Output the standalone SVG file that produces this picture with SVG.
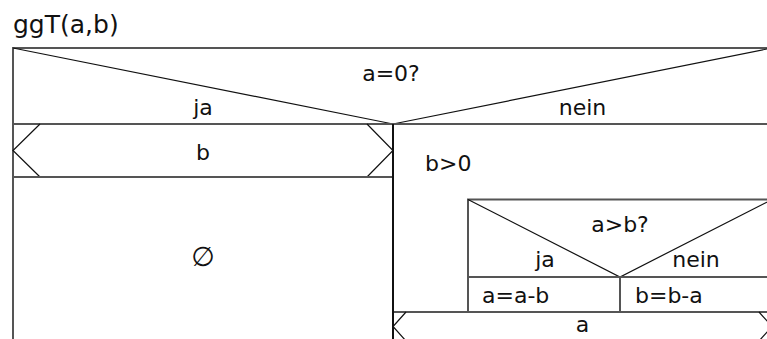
<svg xmlns="http://www.w3.org/2000/svg" width="767" height="339" viewBox="0 0 767 339">
<style>
.t{font-family:"DejaVu Sans","Liberation Sans",sans-serif;font-size:22px;fill:#111}
.c{text-anchor:middle}
.box{fill:none;stroke:#555;stroke-width:2}
.thin{fill:none;stroke:#111;stroke-width:1.2}
.bar{fill:none;stroke:#111;stroke-width:2}
</style>
<rect width="767" height="339" fill="#fff"/>
<g id="title">
<text class="t" x="13" y="33" style="font-size:25px">ggT(a,b)</text>
</g>
<g id="decision-a0">
<rect class="box" x="13" y="48" width="759" height="76"/>
<polyline class="thin" points="13,48 393,124 772,48"/>
<text class="t c" x="391" y="81">a=0?</text>
<text class="t c" x="203" y="115">ja</text>
<text class="t c" x="582.5" y="115">nein</text>
</g>
<g id="return-b">
<rect class="box" x="13" y="124" width="380" height="53"/>
<polyline class="thin" points="40,124 13,150.5 40,177"/>
<polyline class="thin" points="367,124 393,150.5 367,177"/>
<text class="t c" x="203" y="160">b</text>
</g>
<g id="empty">
<rect class="box" x="13" y="177" width="380" height="170"/>
<text class="t c" x="203" y="266" style="font-size:27px">∅</text>
</g>
<g id="loop">
<rect class="box" x="393" y="124" width="379" height="188"/>
<text class="t" x="425" y="171">b&gt;0</text>
</g>
<g id="decision-ab">
<rect class="box" x="468" y="199.5" width="304" height="77.5"/>
<polyline class="thin" points="468,199.5 620,277 772,199.5"/>
<text class="t c" x="620" y="232">a&gt;b?</text>
<text class="t c" x="545" y="267">ja</text>
<text class="t c" x="696" y="267">nein</text>
</g>
<g id="assign-a">
<rect class="box" x="468" y="277" width="152" height="35"/>
<text class="t" x="482" y="303">a=a-b</text>
</g>
<g id="assign-b">
<rect class="box" x="620" y="277" width="152" height="35"/>
<text class="t" x="635" y="303">b=b-a</text>
</g>
<g id="return-a">
<rect class="box" x="393" y="312" width="379" height="29"/>
<polyline class="thin" points="406,312 393,326.5 406,341"/>
<polyline class="thin" points="759,312 772,326.5 759,341"/>
<text class="t c" x="582.5" y="332">a</text>
</g>
<g id="connectors">
<line class="bar" x1="393" y1="124" x2="393" y2="339"/>
</g>
</svg>
